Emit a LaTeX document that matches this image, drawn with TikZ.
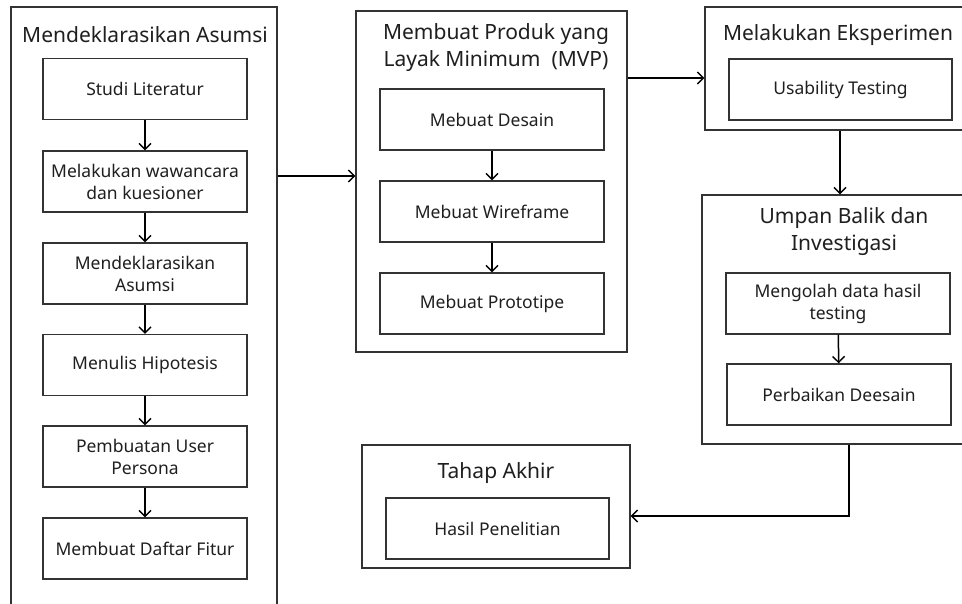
\documentclass[tikz,border=0pt]{standalone}
\usepackage{fontspec}
\setmainfont{Noto Sans}
\usetikzlibrary{arrows.meta,calc}
\definecolor{ln}{HTML}{333333}
\definecolor{tx}{HTML}{1F1F1F}
\begin{document}
\begin{tikzpicture}[x=1pt,y=-1pt,
  box/.style={draw=ln, line width=1.3pt, minimum height=61pt, inner sep=0pt, text=tx, font=\fontsize{17.5}{22}\selectfont, align=center},
  grp/.style={draw=ln, line width=1.3pt, inner sep=0pt},
  ttl/.style={text=tx, font=\fontsize{21}{27}\selectfont, align=center, inner sep=0pt},
  arr/.style={draw=black, line width=1.5pt, -{Straight Barb[length=6pt,width=12pt,line width=1.4pt]}}]
\useasboundingbox (0,0) rectangle (962,603);
\clip (0,0) rectangle (962,603);
\fill[white] (0,0) rectangle (962,603);

% group frames
\node[grp, minimum width=266pt, minimum height=623pt] (L) at (144,318.5) {};
\node[grp, minimum width=271pt, minimum height=341pt] (M) at (491.5,181.5) {};
\node[grp, minimum width=285pt, minimum height=123pt] (E) at (847.5,68.5) {};
\node[grp, minimum width=288pt, minimum height=249pt] (F) at (846,319.5) {};
\node[grp, minimum width=268pt, minimum height=123pt] (T) at (496,506.5) {};

% titles
\node[ttl] (Lt) at (145,35) {Mendeklarasikan Asumsi};
\node[ttl] (Mt) at (496,48) {Membuat Produk yang\\Layak Minimum\ \ (MVP)};
\node[ttl] (Et) at (838,35) {Melakukan Eksperimen};
\node[ttl] (Ft) at (844,231.5) {Umpan Balik dan\\Investigasi};
\node[ttl] (Tt) at (496,473) {Tahap Akhir};

% left column
\node[box, minimum width=204pt] (b1) at (145,89) {Studi Literatur};
\node[box, minimum width=204pt] (b2) at (145,181.5) {Melakukan wawancara\\dan kuesioner};
\node[box, minimum width=204pt] (b3) at (145,273.5) {Mendeklarasikan\\Asumsi};
\node[box, minimum width=204pt] (b4) at (145,365) {Menulis Hipotesis};
\node[box, minimum width=204pt] (b5) at (145,456.5) {Pembuatan User\\Persona};
\node[box, minimum width=204pt] (b6) at (145,548.5) {Membuat Daftar Fitur};

% middle column
\node[box, minimum width=224pt] (m1) at (492,119.5) {Mebuat Desain};
\node[box, minimum width=224pt] (m2) at (492,211.5) {Mebuat Wireframe};
\node[box, minimum width=224pt] (m3) at (492,303.5) {Mebuat Prototipe};

% right column
\node[box, minimum width=223pt] (u1) at (840.5,89.5) {Usability Testing};
\node[box, minimum width=224pt] (f1) at (838,303.5) {Mengolah data hasil\\testing};
\node[box, minimum width=224pt] (f2) at (839,394.5) {Perbaikan Deesain};

% bottom
\node[box, minimum width=223pt] (h1) at (497.5,528.5) {Hasil Penelitian};

% inner arrows
\draw[arr] (b1) -- (b2);
\draw[arr] (b2) -- (b3);
\draw[arr] (b3) -- (b4);
\draw[arr] (b4) -- (b5);
\draw[arr] (b5) -- (b6);
\draw[arr] (m1) -- (m2);
\draw[arr] (m2) -- (m3);
\draw[arr] (f1) -- (f2);

% group connectors
\coordinate (ya) at (0,176);
\coordinate (yb) at (0,78);
\coordinate (xc) at (840,0);
\coordinate (xd) at (849,0);
\coordinate (ye) at (0,516);
\draw[arr] (L.east |- ya) -- (M.west |- ya);
\draw[arr] (M.east |- yb) -- (E.west |- yb);
\draw[arr] (E.south -| xc) -- (F.north -| xc);
\draw[arr] (F.south -| xd) |- (T.east |- ye);
\end{tikzpicture}
\end{document}
